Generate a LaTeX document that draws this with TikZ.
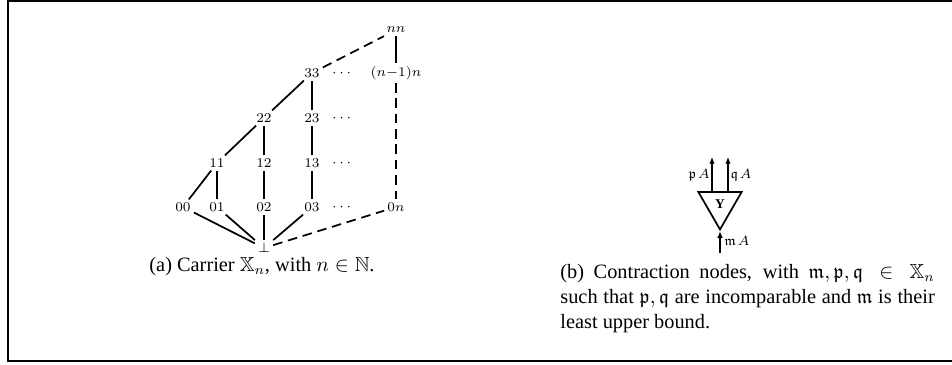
\documentclass[tikz,border=0pt]{standalone}
\usepackage{amsmath}
\usepackage{amssymb}
\usepackage{fontspec}
\setmainfont{Liberation Serif}
\usetikzlibrary{
arrows.meta,
positioning,
shapes.geometric
}
\tikzset{
latnode/.style={inner sep=1.5pt, font=\fontsize{7.4}{9}\selectfont},
latedge/.style={line width=0.9pt},
latdash/.style={line width=0.9pt, dash pattern=on 5pt off 3pt},
contrnode/.style={draw, line width=0.9pt, regular polygon, regular polygon sides=3,
  shape border rotate=180, minimum size=26pt, inner sep=0pt, font=\scriptsize\bfseries},
wirearrow/.style={-{Latex[length=3.5pt,width=3pt]}, line width=0.9pt},
wirelabel/.style={font=\scriptsize, inner sep=1pt},
capfont/.style={font=\fontsize{10.6}{13}\selectfont},
captext/.style={capfont, align=justify, text width=195pt, inner sep=0pt}
}

\begin{document}
\begin{tikzpicture}[x=0.5208pt, y=-0.5208pt]
\useasboundingbox (0,0) rectangle (952,365);
\draw[line width=1.4pt] (970,1) -- (8,1) -- (8,361) -- (970,361);

% (a) carrier
\node[latnode] (nn) at (396,30) {$nn$};
\node[latnode] (n1n) at (396,73) {$(n{-}1)n$};
\node[latnode] (c33) at (312,73) {$33$};
\node[latnode] (d3) at (343,73) {$\cdots$};
\node[latnode] (c22) at (264,118) {$22$};
\node[latnode] (c23) at (312,118) {$23$};
\node[latnode] (d2) at (343,118) {$\cdots$};
\node[latnode] (c11) at (217,163) {$11$};
\node[latnode] (c12) at (264,163) {$12$};
\node[latnode] (c13) at (312,163) {$13$};
\node[latnode] (d1) at (343,163) {$\cdots$};
\node[latnode] (c00) at (183,207) {$00$};
\node[latnode] (c01) at (217,207) {$01$};
\node[latnode] (c02) at (264,207) {$02$};
\node[latnode] (c03) at (312,207) {$03$};
\node[latnode] (d0) at (343,207) {$\cdots$};
\node[latnode] (c0n) at (396,207) {$0n$};
\node[latnode] (bot) at (264,248) {$\bot$};

\draw[latedge] (bot) -- (c00);
\draw[latedge] (bot) -- (c01);
\draw[latedge] (bot) -- (c02);
\draw[latedge] (bot) -- (c03);
\draw[latdash] (bot) -- (c0n);
\draw[latedge] (c00) -- (c11);
\draw[latedge] (c01) -- (c11);
\draw[latedge] (c02) -- (c12);
\draw[latedge] (c03) -- (c13);
\draw[latedge] (c11) -- (c22);
\draw[latedge] (c12) -- (c22);
\draw[latedge] (c13) -- (c23);
\draw[latedge] (c22) -- (c33);
\draw[latedge] (c23) -- (c33);
\draw[latdash] (c33) -- (nn);
\draw[latedge] (nn) -- (n1n);
\draw[latdash] (n1n) -- (c0n);

\node[capfont, anchor=base] (capa) at (262,271) {(a) Carrier $\mathbb{X}_n$, with $n\in\mathbb{N}$.};

% (b) contraction node
\node[contrnode] (tri) at (720,204.5) {Y};
\coordinate (pbase) at (712,192);
\coordinate (ptip) at (712,157);
\coordinate (qbase) at (728,192);
\coordinate (qtip) at (728,157);
\coordinate (mfoot) at (720,253);
\draw[wirearrow] (pbase) -- (ptip);
\draw[wirearrow] (qbase) -- (qtip);
\draw[wirearrow] (mfoot) -- (tri.corner 1);
\node[wirelabel, left=0pt of pbase, yshift=9pt] (plab) {$\mathfrak{p}\mkern2mu A$};
\node[wirelabel, right=0pt of qbase, yshift=9pt] (qlab) {$\mathfrak{q}\mkern2mu A$};
\node[wirelabel, anchor=west] (mlab) at (722,241) {$\mathfrak{m}\mkern2mu A$};

\node[captext, anchor=north west] (capb) at (560,264) {(b) Contraction nodes, with $\mathfrak{m},\mathfrak{p},\mathfrak{q}\in\mathbb{X}_n$\linebreak such that $\mathfrak{p},\mathfrak{q}$ are incomparable and $\mathfrak{m}$ is their\linebreak least upper bound.};
\end{tikzpicture}
\end{document}
